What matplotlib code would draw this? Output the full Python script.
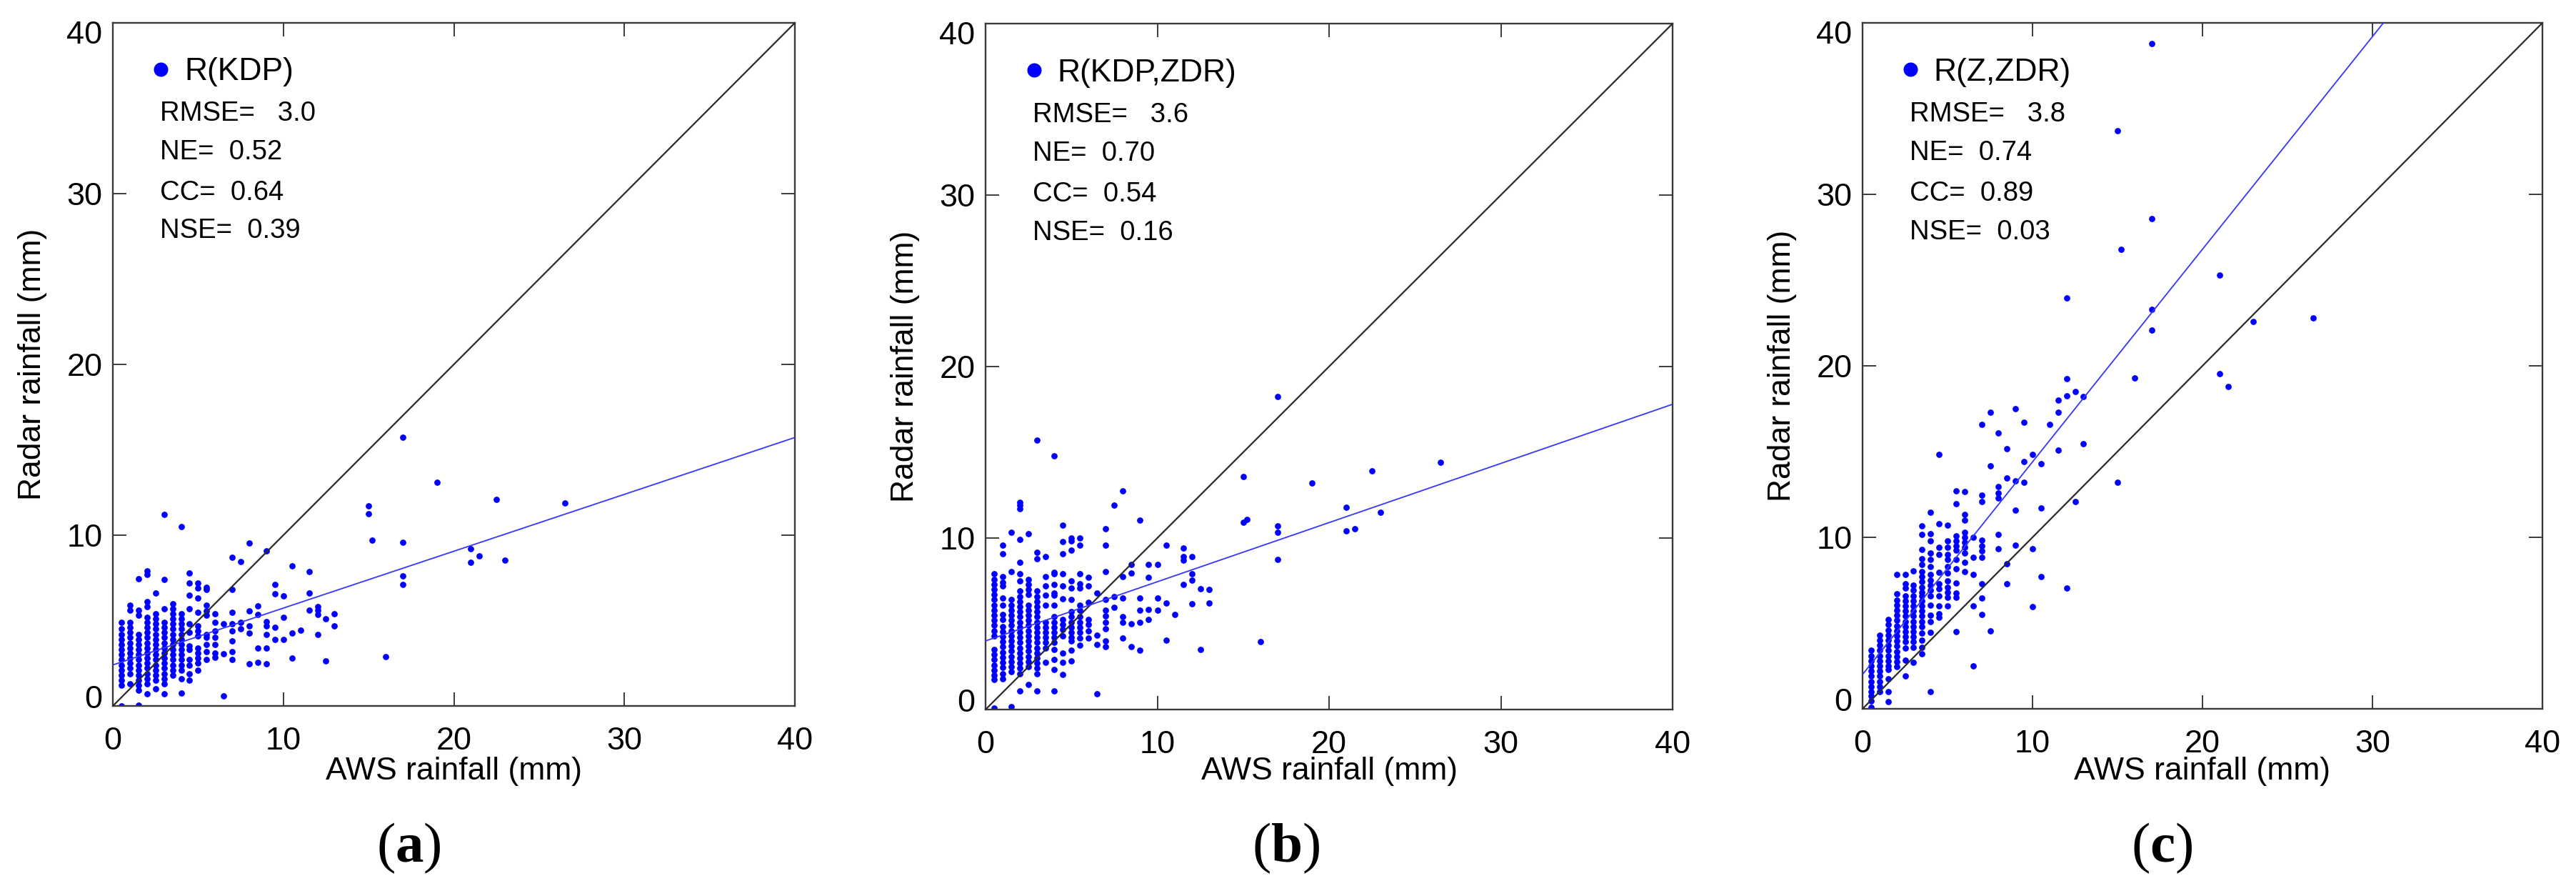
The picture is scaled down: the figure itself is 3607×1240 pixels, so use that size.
import matplotlib
matplotlib.use('Agg')
import matplotlib.pyplot as plt
import matplotlib.transforms as mtransforms

plt.rcParams['font.family'] = ['Liberation Sans', 'DejaVu Sans']
plt.rcParams['mathtext.fontset'] = 'custom'
plt.rcParams['mathtext.rm'] = 'Liberation Serif'
plt.rcParams['mathtext.bf'] = 'Liberation Serif:bold'

# ---------------- data ----------------
series_labels = ['R(KDP)', 'R(KDP,ZDR)', 'R(Z,ZDR)']
panel_tags = ['a', 'b', 'c']
rmse = [3.0, 3.6, 3.8]
ne = [0.52, 0.70, 0.74]
cc = [0.64, 0.54, 0.89]
nse = [0.39, 0.16, 0.03]
fit_intercept = [2.4, 4.0, 2.0]
fit_slope = [0.333, 0.345, 1.24]
ticks = [0, 10, 20, 30, 40]

# AWS rainfall columns (mm) and radar rainfall values in each column
kdp_x_cols = [0.5, 1.0, 1.5, 2.0, 2.5, 3.0, 3.5, 4.0, 4.5, 5.0, 5.5, 6.0, 6.5, 7.0,
              7.5, 8.0, 8.5, 9.0, 9.5, 10.0, 10.5, 11.0, 11.5, 12.0, 12.5, 13.0,
              15.0, 15.2, 16.0, 17.0, 19.0, 21.0, 21.5, 22.5, 23.0, 26.5]
kdp_y_cols = [
    [0.0, 1.2, 1.5, 1.8, 2.1, 2.4, 2.7, 3.0, 3.3, 3.6, 3.9, 4.2, 4.5, 4.9],
    [1.3, 1.9, 2.2, 2.5, 2.8, 3.1, 3.4, 3.7, 4.0, 4.3, 4.6, 4.9, 5.6, 5.9],
    [0.05, 0.9, 1.2, 1.5, 1.8, 2.1, 2.4, 2.7, 3.0, 3.3, 3.6, 3.9, 4.2, 5.3, 5.6, 7.45],
    [0.7, 1.3, 1.6, 1.9, 2.2, 2.5, 2.8, 3.1, 3.4, 3.7, 4.0, 4.3, 4.6, 4.9, 5.2, 5.8, 6.1, 7.7, 7.9],
    [1.0, 1.5, 1.8, 2.1, 2.4, 2.7, 3.0, 3.3, 3.6, 3.9, 4.2, 4.5, 4.8, 5.1, 5.4, 6.6],
    [0.7, 1.3, 1.6, 1.9, 2.2, 2.5, 2.8, 3.1, 3.4, 3.7, 4.0, 4.3, 4.6, 4.9, 5.7, 7.4, 11.2],
    [1.8, 2.1, 2.4, 2.7, 3.0, 3.3, 3.6, 3.9, 4.2, 4.5, 4.8, 5.1, 5.4, 5.7, 6.0],
    [0.75, 1.6, 2.1, 2.4, 2.7, 3.0, 3.3, 3.6, 3.9, 4.2, 4.5, 4.8, 5.1, 5.4, 10.5],
    [1.5, 1.9, 2.4, 2.7, 3.3, 3.5, 4.3, 4.8, 5.7, 6.5, 7.2, 7.8],
    [2.1, 2.5, 2.8, 3.1, 3.4, 4.1, 4.4, 4.7, 5.5, 6.3, 6.9, 7.2],
    [2.7, 3.2, 3.6, 4.0, 4.2, 5.3, 5.55, 5.9, 6.8, 6.95],
    [2.85, 3.1, 3.6, 4.0, 4.4, 4.9, 5.4],
    [0.6, 3.05, 4.8],
    [2.7, 3.2, 3.8, 4.4, 4.8, 5.5, 6.8, 8.7],
    [4.5, 4.9, 8.45],
    [2.45, 4.25, 4.7, 5.55, 9.55],
    [2.55, 3.4, 5.35, 5.85],
    [2.45, 3.4, 4.2, 4.7, 4.95, 9.1],
    [3.9, 4.6, 6.55, 7.1],
    [3.9, 5.2, 6.45],
    [2.8, 4.25, 8.2],
    [4.45],
    [5.6, 6.6, 7.85],
    [4.2, 5.35, 5.6, 5.8],
    [2.65, 5.1],
    [4.7, 5.4],
    [11.25, 11.7],
    [9.7],
    [2.9],
    [7.1, 7.6, 9.6, 15.75],
    [13.1],
    [8.4, 9.2],
    [8.8],
    [12.1],
    [8.55],
    [11.9],
]

kdpzdr_x_cols = [0.5, 1.0, 1.5, 2.0, 2.5, 3.0, 3.5, 4.0, 4.5, 5.0, 5.5, 6.0, 6.5, 7.0,
                 7.5, 8.0, 8.5, 9.0, 9.5, 10.0, 10.5, 11.0, 11.5, 12.0, 12.5, 13.0,
                 15.0, 15.2, 16.0, 17.0, 19.0, 21.0, 21.5, 22.5, 23.0, 26.5]
kdpzdr_y_cols = [
    [0.1, 1.75, 2.0, 2.3, 2.6, 2.9, 3.2, 3.5, 4.3, 4.6, 4.9, 5.2, 5.5, 5.8, 6.1, 6.4, 6.7, 7.0, 7.3, 7.6, 7.9],
    [1.8, 2.1, 2.45, 2.75, 3.05, 3.35, 3.65, 3.95, 4.25, 4.55, 4.85, 5.25, 5.55, 6.1, 6.5, 7.2, 7.4, 7.75, 9.1, 9.6],
    [0.15, 2.2, 2.5, 2.8, 3.1, 3.4, 3.7, 4.0, 4.3, 4.6, 4.9, 5.2, 5.5, 5.8, 6.1, 6.4, 8.05, 10.35],
    [1.1, 2.1, 2.4, 2.7, 3.0, 3.3, 3.6, 3.9, 4.2, 4.5, 4.8, 5.1, 5.4, 5.7, 6.0, 6.3, 6.6, 6.9, 7.5, 7.9, 8.6, 9.9, 11.7, 11.9, 12.1],
    [1.45, 2.5, 2.8, 3.1, 3.4, 3.7, 4.0, 4.3, 4.6, 4.9, 5.2, 5.5, 5.8, 6.1, 6.7, 7.0, 7.3, 7.6, 10.25],
    [1.1, 2.1, 2.4, 2.7, 3.0, 3.3, 3.6, 3.9, 4.2, 4.5, 4.8, 5.1, 5.4, 5.7, 6.0, 6.3, 6.6, 6.9, 8.8, 9.15, 15.7],
    [2.75, 3.6, 3.9, 4.2, 4.5, 4.8, 5.1, 6.1, 6.65, 7.2, 7.75, 8.9],
    [1.1, 2.35, 2.9, 3.5, 3.9, 4.2, 4.5, 4.8, 5.1, 5.4, 6.1, 6.65, 6.8, 7.3, 7.9, 8.0, 14.8],
    [2.05, 2.75, 3.3, 4.3, 4.65, 4.95, 5.25, 6.45, 7.2, 7.9, 9.1, 9.8, 10.75],
    [2.85, 3.45, 4.0, 4.2, 4.5, 4.8, 5.1, 5.4, 5.7, 6.4, 7.1, 7.5, 9.3, 9.85, 10.0],
    [3.75, 4.15, 4.5, 4.8, 5.1, 5.4, 5.8, 6.1, 7.1, 7.35, 7.9, 9.6, 10.0],
    [4.15, 4.6, 4.95, 5.25, 6.25, 7.2, 7.7],
    [0.9, 3.8, 4.35, 6.8],
    [3.65, 4.0, 4.7, 5.1, 5.45, 5.8, 6.4, 8.05, 9.6, 10.55],
    [5.95, 6.6, 11.9],
    [4.15, 5.1, 5.4, 6.5, 7.75, 12.75],
    [3.65, 5.0, 7.95, 8.45],
    [3.45, 5.1, 5.8, 6.5, 11.05],
    [5.25, 5.85, 7.7, 8.45],
    [5.8, 6.5, 8.45],
    [4.05, 6.2, 9.6],
    [5.55],
    [7.3, 8.7, 8.9, 9.4],
    [6.15, 7.55, 7.9, 8.9],
    [3.5, 7.05],
    [6.2, 7.0],
    [10.9, 13.6],
    [11.1],
    [3.95],
    [8.75, 10.35, 10.7, 18.25],
    [13.2],
    [10.4, 11.8],
    [10.55],
    [13.9],
    [11.5],
    [14.4],
]

zzdr_x_cols = [0.5, 1.0, 1.5, 2.0, 2.5, 3.0, 3.5, 4.0, 4.5, 5.0, 5.5, 6.0, 6.5, 7.0,
               7.5, 8.0, 8.5, 9.0, 9.5, 10.0, 10.5, 11.0, 11.5, 12.0, 12.5, 13.0,
               15.0, 15.2, 16.0, 17.0, 21.0, 21.5, 23.0, 26.5]
zzdr_y_cols = [
    [0.1, 0.45, 0.75, 1.0, 1.3, 1.6, 1.9, 2.2, 2.5, 2.8, 3.1, 3.4],
    [1.0, 1.3, 1.6, 1.9, 2.2, 2.5, 2.8, 3.1, 3.4, 3.7, 4.0, 4.3],
    [0.4, 1.0, 1.75, 2.3, 2.5, 2.8, 3.1, 3.4, 3.7, 4.0, 4.3, 4.6, 4.9, 5.2],
    [2.45, 2.75, 3.05, 3.35, 3.65, 3.95, 4.25, 4.55, 4.85, 5.15, 5.45, 5.75, 6.05, 6.35, 6.7, 7.85],
    [1.9, 2.85, 3.55, 3.9, 4.2, 4.5, 4.8, 5.1, 5.4, 5.7, 6.0, 6.3, 6.6, 7.05, 7.3, 7.85],
    [2.7, 3.6, 3.9, 4.2, 4.5, 4.8, 5.1, 5.4, 5.7, 6.0, 6.3, 6.6, 6.9, 7.2, 8.05],
    [3.2, 3.6, 4.0, 4.4, 4.8, 5.1, 5.4, 5.7, 6.0, 6.3, 6.6, 6.8, 7.1, 7.4, 7.7, 8.0, 8.4, 8.75, 9.3, 10.15, 10.65],
    [1.0, 4.45, 5.1, 5.45, 6.05, 6.6, 6.9, 7.2, 7.5, 7.85, 8.3, 8.7, 9.1, 9.8, 10.2, 11.45],
    [5.35, 5.55, 6.0, 6.6, 7.0, 7.3, 7.95, 9.0, 9.4, 10.8, 14.85],
    [6.0, 6.5, 6.8, 7.1, 7.45, 7.9, 8.3, 8.7, 9.0, 9.4, 9.8, 10.7],
    [4.5, 6.5, 6.75, 7.35, 8.15, 8.7, 9.25, 9.5, 9.8, 10.1, 11.95, 12.7],
    [8.0, 8.55, 9.1, 9.4, 9.7, 10.0, 10.3, 11.0, 11.35, 12.65],
    [2.5, 6.0, 7.85, 8.85, 10.0],
    [5.5, 6.45, 7.3, 8.85, 9.2, 9.5, 9.85, 12.1, 12.45, 16.6],
    [4.55, 14.15, 17.3],
    [9.35, 10.15, 12.3, 12.6, 12.95, 16.1],
    [7.3, 8.45, 13.45, 15.15],
    [9.55, 11.6, 13.3, 17.5],
    [13.2, 14.4, 16.7],
    [5.95, 9.35, 14.85],
    [7.7, 11.7, 14.3],
    [16.6],
    [15.08, 17.3, 18.0],
    [7.05, 18.25, 19.25, 23.95],
    [12.1, 18.5],
    [15.45, 18.2],
    [13.2, 33.7],
    [26.8],
    [19.3],
    [22.1, 23.3, 28.6, 38.8],
    [19.55, 25.3],
    [18.8],
    [22.6],
    [22.8],
]

all_x_cols = [kdp_x_cols, kdpzdr_x_cols, zzdr_x_cols]
all_y_cols = [kdp_y_cols, kdpzdr_y_cols, zzdr_y_cols]

# ---------------- layout ----------------
W, H, DPI = 3607, 1240, 100
fig = plt.figure(figsize=(W / DPI, H / DPI), dpi=DPI)

rects_px = [(158, 32, 1113, 988), (1380, 33, 2342, 993), (2608, 32, 3560, 992)]
tag_x_px = [572, 1801, 3027]

SPINE = '#3a3a3a'
BLUE = '#0000ff'

for i in range(3):
    l, t, r, b = rects_px[i]
    ax = fig.add_axes([l / W, 1 - b / H, (r - l) / W, (b - t) / H])
    xs = [xc for xc, ycol in zip(all_x_cols[i], all_y_cols[i]) for _ in ycol]
    ys = [yv for ycol in all_y_cols[i] for yv in ycol]
    h, = ax.plot(xs, ys, 'o', ms=6.3, color=BLUE, mec='none', zorder=2)

    ax.plot([0, 40], [0, 40], color='#2a2a2a', lw=1.6, zorder=3)
    fx = [0, 40]
    fy = [fit_intercept[i] + fit_slope[i] * v for v in fx]
    ax.plot(fx, fy, color='#3535ff', lw=1.3, zorder=3)

    ax.set_xlim(0, 40)
    ax.set_ylim(0, 40)
    ax.set_xticks(ticks, labels=[str(v) for v in ticks])
    ax.set_yticks(ticks, labels=[str(v) for v in ticks])
    ax.tick_params(direction='in', length=13.5, width=1.4, color=SPINE,
                   top=True, right=True, labelsize=32.5, labelcolor='black')
    ax.tick_params(axis='x', pad=21)
    ax.tick_params(axis='y', pad=10.5)
    for s in ax.spines.values():
        s.set_linewidth(1.7)
        s.set_color(SPINE)

    ylabs = ax.get_yticklabels()
    shift = 9.4 / 72
    ylabs[0].set_transform(ylabs[0].get_transform() +
                           mtransforms.ScaledTranslation(0, shift, fig.dpi_scale_trans))
    ylabs[-1].set_transform(ylabs[-1].get_transform() +
                            mtransforms.ScaledTranslation(0, -shift, fig.dpi_scale_trans))

    ax.set_xlabel('AWS rainfall (mm)', fontsize=32, va='center')
    ax.xaxis.set_label_coords(0.5, -(1080 - b) / (b - t))
    ax.set_ylabel('Radar rainfall (mm)', fontsize=32, va='center')
    ax.yaxis.set_label_coords(-112 / (r - l), 0.5)

    ax.legend(handles=[h], labels=[series_labels[i]], loc='center left',
              bbox_to_anchor=(0.052, 0.928), frameon=False, borderpad=0,
              borderaxespad=0, handlelength=0.8, handletextpad=0.33,
              markerscale=20 / 8.75, fontsize=32)

    stats = [f'RMSE=   {rmse[i]:.1f}', f'NE=  {ne[i]:.2f}',
             f'CC=  {cc[i]:.2f}', f'NSE=  {nse[i]:.2f}']
    base_y = [0.8563, 0.7998, 0.7402, 0.6847]
    for s_txt, yy in zip(stats, base_y):
        ax.text(0.069, yy, s_txt, transform=ax.transAxes, fontsize=27.5,
                va='baseline', ha='left')

    fig.text(tag_x_px[i] / W, 1 - 1187 / H, r'($\mathbf{' + panel_tags[i] + '}$)',
             family='Liberation Serif', fontsize=57, ha='center', va='center')

fig.savefig('out.png', dpi=DPI)
